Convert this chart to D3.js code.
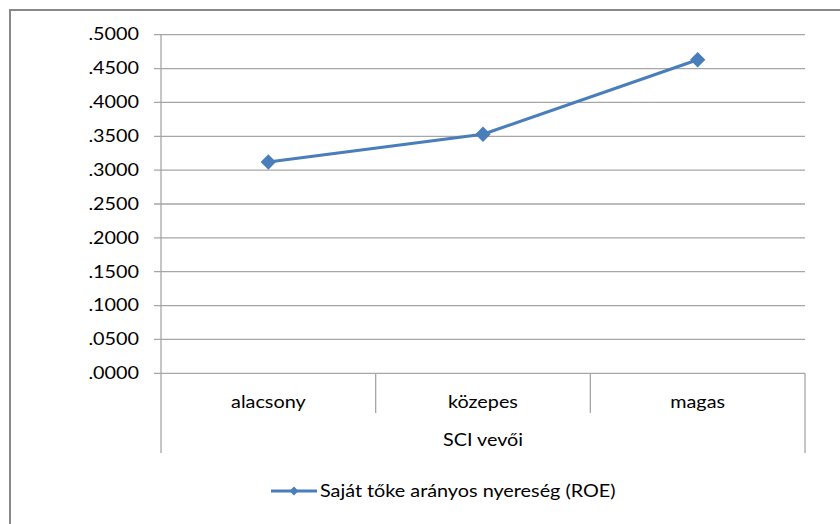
<!DOCTYPE html>
<html>
<head>
<meta charset="utf-8">
<script src="https://cdn.jsdelivr.net/npm/d3@7"></script>
<style>
  html, body { margin: 0; padding: 0; background: #fff; }
  svg { display: block; }
  text { font-family: Lato, "Open Sans", sans-serif; fill: #000; }
</style>
</head>
<body>
<svg id="chart" width="840" height="524"></svg>
<script>
// ROE by SCI customer group
const categories = ["alacsony", "közepes", "magas"];
const roeValues = [0.312, 0.353, 0.463];
const yTicks = [0, 0.05, 0.1, 0.15, 0.2, 0.25, 0.3, 0.35, 0.4, 0.45, 0.5];
const groupLabel = "SCI vevői";
const seriesName = "Saját tőke arányos nyereség (ROE)";

const svg = d3.select("#chart");
const lineColor = "#4a7ebb";
const gridColor = "#a6a6a6";
const fontSize = 16.5;
const stretch = 1.2; // wide-set lettering

// places a horizontally widened text at (px, py)
function label(sel, px, py, anchor) {
  return sel.attr("transform", (d, i) => {
    const X = typeof px === "function" ? px(d, i) : px;
    const Y = typeof py === "function" ? py(d, i) : py;
    return `translate(${X},${Y}) scale(${stretch},1)`;
  })
    .attr("dy", "0.35em")
    .attr("text-anchor", anchor)
    .attr("font-size", fontSize);
}

// outer frame
svg.append("rect")
  .attr("x", 10).attr("y", 10)
  .attr("width", 840).attr("height", 600)
  .attr("fill", "none").attr("stroke", "#888").attr("stroke-width", 2);

const plot = { left: 161, right: 805, top: 34.7, bottom: 373.3 };

const x = d3.scaleBand().domain(categories).range([plot.left, plot.right]).padding(0);
const y = d3.scaleLinear().domain([0, 0.5]).range([plot.bottom, plot.top]);

// horizontal gridlines
svg.append("g").selectAll("line").data(yTicks).join("line")
  .attr("x1", plot.left - 7).attr("x2", plot.right)
  .attr("y1", d => y(d)).attr("y2", d => y(d))
  .attr("stroke", gridColor).attr("stroke-width", 1.3);

// y tick labels
const fmt = d => d3.format(".4f")(d).replace(/^0/, "");
label(svg.append("g").selectAll("text").data(yTicks).join("text"),
  139, d => y(d), "end")
  .text(fmt);

// vertical axis line and category dividers
const axisG = svg.append("g").attr("stroke", gridColor).attr("stroke-width", 1.3);
axisG.append("line")
  .attr("x1", plot.left).attr("x2", plot.left)
  .attr("y1", plot.top).attr("y2", 453);
axisG.append("line")
  .attr("x1", plot.right).attr("x2", plot.right)
  .attr("y1", plot.bottom).attr("y2", 453);
axisG.selectAll("line.div").data(categories.slice(1)).join("line")
  .attr("class", "div")
  .attr("x1", d => x(d)).attr("x2", d => x(d))
  .attr("y1", plot.bottom).attr("y2", 413);

// category labels
label(svg.append("g").selectAll("text").data(categories).join("text"),
  d => x(d) + x.bandwidth() / 2, 402, "middle")
  .text(d => d);

label(svg.append("text"), (plot.left + plot.right) / 2, 440, "middle")
  .text(groupLabel);

// series line
const pts = categories.map((c, i) => [x(c) + x.bandwidth() / 2, y(roeValues[i])]);
svg.append("path")
  .attr("d", d3.line()(pts))
  .attr("fill", "none").attr("stroke", lineColor).attr("stroke-width", 3.2)
  .attr("stroke-linejoin", "round");

const diamond = d3.symbol().type(d3.symbolDiamond2).size(150);
svg.append("g").selectAll("path").data(pts).join("path")
  .attr("transform", d => `translate(${d[0]},${d[1]})`)
  .attr("d", diamond)
  .attr("fill", lineColor);

// legend
const lg = svg.append("g").attr("transform", "translate(271,491)");
lg.append("line").attr("x1", 0).attr("x2", 46).attr("y1", 0).attr("y2", 0)
  .attr("stroke", lineColor).attr("stroke-width", 3.2);
lg.append("path").attr("transform", "translate(23,0)")
  .attr("d", d3.symbol().type(d3.symbolDiamond2).size(50))
  .attr("fill", lineColor);
label(lg.append("text"), 49, 0, "start")
  .text(seriesName);
</script>
</body>
</html>
